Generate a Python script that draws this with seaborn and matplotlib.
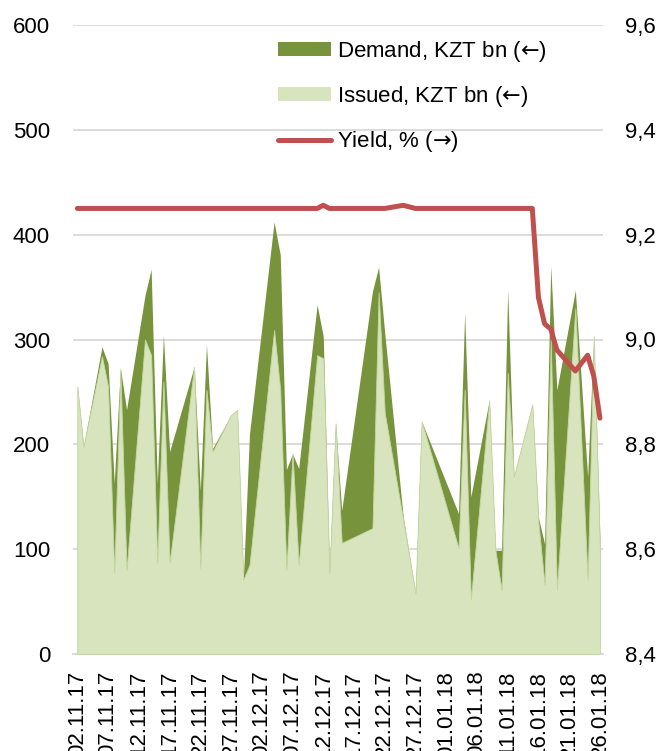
import pandas as pd
import matplotlib.pyplot as plt
import matplotlib.ticker as mticker
import matplotlib.dates as mdates
from matplotlib.patches import Patch
from matplotlib.lines import Line2D
import seaborn as sns

# Auction dates and values (KZT bn, %)
dates = ["02.11.17", "03.11.17", "06.11.17", "07.11.17", "08.11.17", "09.11.17", "10.11.17",
         "13.11.17", "14.11.17", "15.11.17", "16.11.17", "17.11.17", "21.11.17", "22.11.17",
         "23.11.17", "24.11.17", "27.11.17", "28.11.17", "29.11.17", "30.11.17", "04.12.17",
         "05.12.17", "06.12.17", "07.12.17", "08.12.17", "11.12.17", "12.12.17", "13.12.17",
         "14.12.17", "15.12.17", "20.12.17", "21.12.17", "22.12.17", "25.12.17", "27.12.17",
         "28.12.17", "03.01.18", "04.01.18", "05.01.18", "08.01.18", "09.01.18", "10.01.18",
         "11.01.18", "12.01.18", "15.01.18", "16.01.18", "17.01.18", "18.01.18", "19.01.18",
         "22.01.18", "24.01.18", "25.01.18", "26.01.18"]
demand = [255, 198, 293, 277, 163, 273, 233,
          342, 367, 163, 304, 193, 274, 156,
          295, 196, 228, 233, 71, 210, 412,
          381, 176, 191, 177, 333, 303, 80,
          220, 137, 346, 369, 306, 131, 58,
          222, 134, 325, 150, 242, 99, 99,
          347, 169, 238, 130, 105, 370, 252,
          347, 169, 303, 110]
issued = [255, 198, 284, 255, 77, 270, 80,
          300, 285, 87, 260, 87, 274, 82,
          252, 193, 228, 233, 71, 85, 309,
          252, 80, 191, 85, 285, 282, 77,
          220, 106, 120, 345, 230, 128, 58,
          222, 101, 252, 52, 242, 99, 61,
          268, 169, 238, 125, 66, 300, 61,
          330, 71, 303, 99]
yield_pct = [9.25, 9.25, 9.25, 9.25, 9.25, 9.25, 9.25,
             9.25, 9.25, 9.25, 9.25, 9.25, 9.25, 9.25,
             9.25, 9.25, 9.25, 9.25, 9.25, 9.25, 9.25,
             9.25, 9.25, 9.25, 9.25, 9.25, 9.256, 9.25,
             9.25, 9.25, 9.25, 9.25, 9.25, 9.256, 9.25,
             9.25, 9.25, 9.25, 9.25, 9.25, 9.25, 9.25,
             9.25, 9.25, 9.25, 9.08, 9.03, 9.02, 8.98,
             8.94, 8.97, 8.93, 8.85]

df = pd.DataFrame({
    "date": pd.to_datetime(dates, format="%d.%m.%y"),
    "demand": demand,
    "issued": issued,
    "yield": yield_pct,
})

sns.set_style("white")
plt.rcParams["font.family"] = ["Liberation Sans", "DejaVu Sans"]
plt.rcParams["font.size"] = 16
plt.rcParams["mathtext.fontset"] = "dejavusans"
plt.rcParams["text.color"] = "black"
plt.rcParams["xtick.color"] = "black"
plt.rcParams["ytick.color"] = "black"

dark_green = "#77933C"
light_green = "#D7E4BD"
red = "#C0504D"
grid_col = "#D9D9D9"

fig = plt.figure(figsize=(6.63, 7.51), dpi=100)
ax = fig.add_axes([73 / 663, 1 - 654 / 751, 530 / 663, 629 / 751])

# areas (demand behind, issued in front)
ax.fill_between(df["date"], df["demand"], color=dark_green, lw=0, zorder=2)
ax.fill_between(df["date"], df["issued"], color=light_green, edgecolor="#C4D7A0", lw=0.6, zorder=3)

ax.set_ylim(0, 600)
ax.set_yticks(range(0, 601, 100))
ax.yaxis.grid(True, color=grid_col, lw=1.3, zorder=0)
ax.set_axisbelow(True)

start = df["date"].iloc[0]
end = df["date"].iloc[-1]
ax.set_xlim(start - pd.Timedelta(hours=17), end + pd.Timedelta(hours=12))
ax.set_xticks(pd.date_range(start, end, freq="5D"))
ax.xaxis.set_major_formatter(mdates.DateFormatter("%d.%m.%y"))
ax.tick_params(axis="x", rotation=90, length=0, pad=12, labelsize=16)
ax.tick_params(axis="y", length=0, pad=16.5, labelsize=16)
ax.set_xlabel("")
ax.set_ylabel("")
for s in ["top", "left", "right"]:
    ax.spines[s].set_visible(False)
ax.spines["bottom"].set_color(grid_col)
ax.spines["bottom"].set_linewidth(1.3)

# yield on the right axis
ax2 = ax.twinx()
sns.lineplot(data=df, x="date", y="yield", ax=ax2, color=red, lw=3.6,
             solid_capstyle="round", solid_joinstyle="round", legend=False)
ax2.set_ylim(8.4, 9.6)
ax2.set_yticks([8.4, 8.6, 8.8, 9.0, 9.2, 9.4, 9.6])
ax2.yaxis.set_major_formatter(mticker.FuncFormatter(lambda v, p: f"{v:.1f}".replace(".", ",")))
ax2.tick_params(axis="y", length=0, pad=16, labelsize=16)
ax2.set_ylabel("")
ax2.set_xlabel("")
for s in ["top", "left", "right", "bottom"]:
    ax2.spines[s].set_visible(False)

handles = [
    Patch(facecolor=dark_green, edgecolor="none", label="Demand, KZT bn ($←$)"),
    Patch(facecolor=light_green, edgecolor="none", label="Issued, KZT bn ($←$)"),
    Line2D([0], [0], color=red, lw=3.6, label="Yield, % ($→$)"),
]
fig.legend(handles=handles, loc="upper left", bbox_to_anchor=(278 / 663, 1 - 39 / 751),
           frameon=False, fontsize=16, handlelength=2.4, handleheight=0.6,
           handletextpad=0.25, labelspacing=0.9, borderpad=0, borderaxespad=0)

fig.savefig("out.png", dpi=100)
